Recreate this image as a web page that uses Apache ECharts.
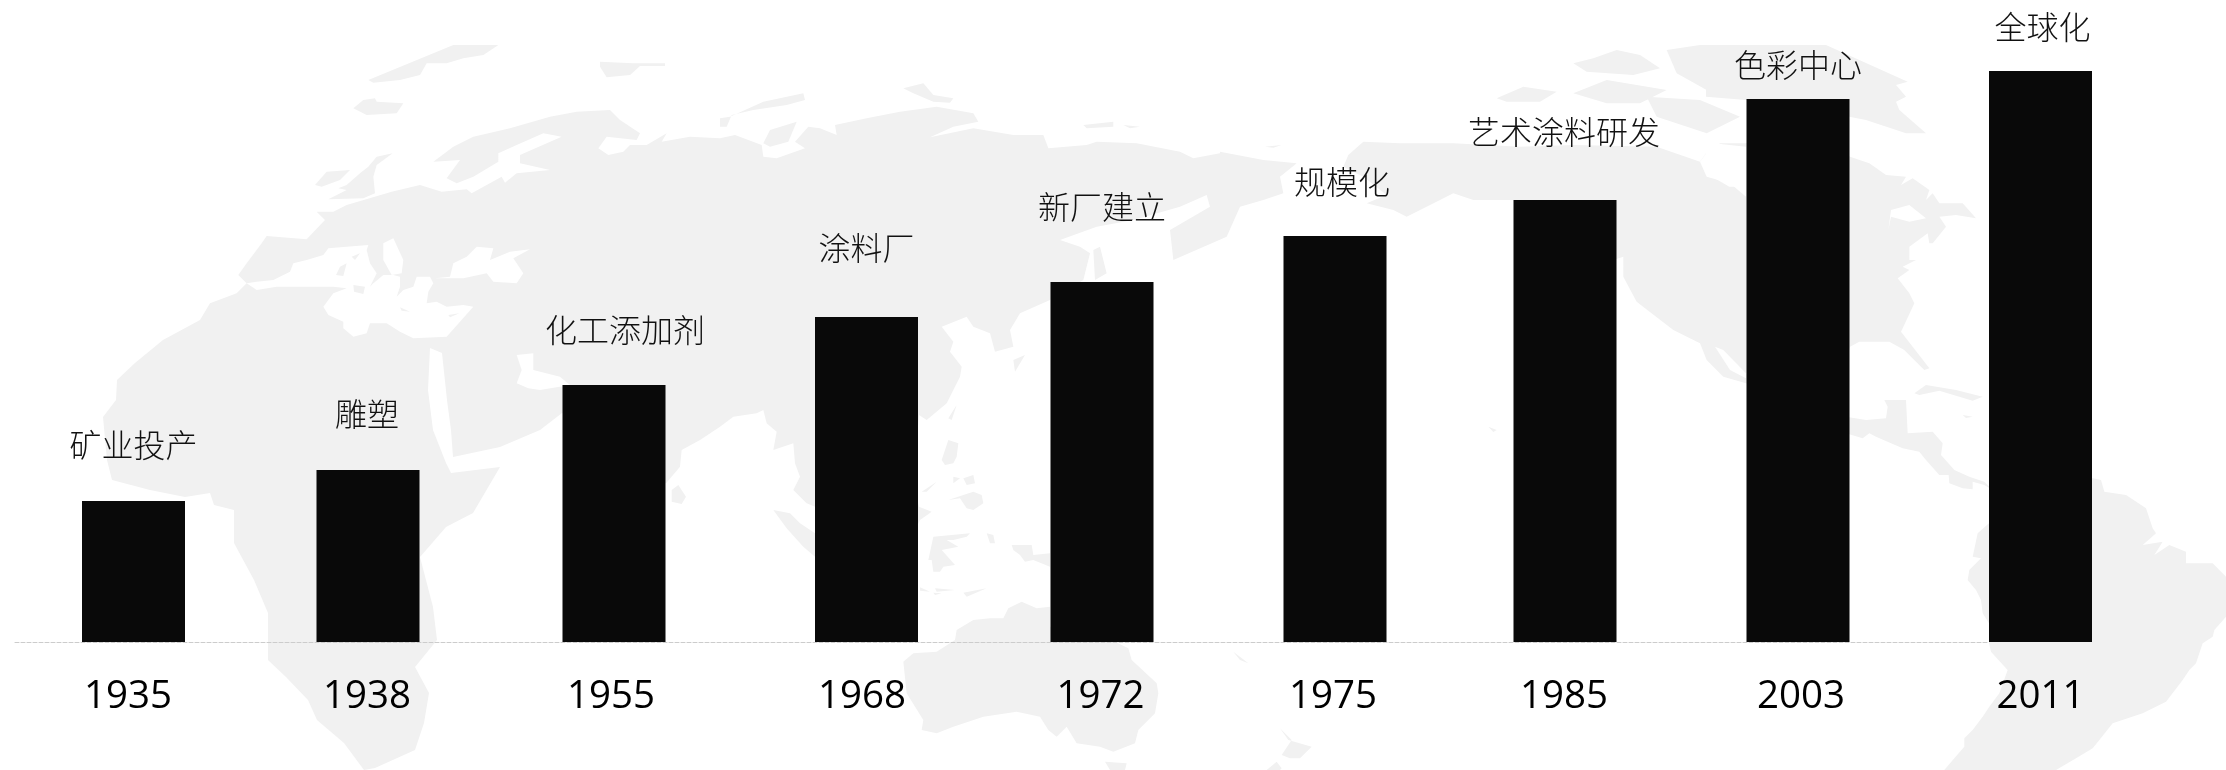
<!DOCTYPE html>
<html>
<head>
<meta charset="utf-8">
<style>html,body{margin:0;padding:0;background:#fff}#c{width:2226px;height:770px}</style>
<script src="https://cdn.jsdelivr.net/npm/echarts@6/dist/echarts.min.js"></script>
</head>
<body>
<div id="c"></div>
<script>
// ---- data ----
const years = ['1935','1938','1955','1968','1972','1975','1985','2003','2011'];
const milestones = ['矿业投产','雕塑','化工添加剂','涂料厂','新厂建立','规模化','艺术涂料研发','色彩中心','全球化'];
const heights = [141,172,257,325,360,406,442,543,571];

// ---- layout of the uneven columns and their captions ----
const barCentres = [133.5,368,614,866.5,1102,1335,1565,1798,2040.5];
const captionLift = [56,56,55,69,75,54,68,34,44];
const captionShift = [0,-1,11,0,0,7,-1,0,2];
const yearShift = [-5.5,-1,-3,-4.5,-1.5,-2,-1,3,0];
const SLOT = 200, BASE_Y = 642, BAR_W = 103;

// ---- backdrop world map, hand traced ----
function Z(x0,y0,s,str){return str.trim().split(/\s+/).map(p=>{const [a,b]=p.split(',').map(Number);return [x0+a/s,y0+b/s];});}
const z5=s=>Z(200,30,3,s), z6=s=>Z(720,30,3,s), z7=s=>Z(1240,30,3,s), z8=s=>Z(1706,30,3,s), z9=s=>Z(620,400,3,s), z10=s=>Z(1100,400,3,s), z11=s=>Z(1706,400,3,s), z12=s=>Z(1220,110,3,s), F=s=>Z(0,0,1,s);
const land = [
 // Afro-Eurasia
 [].concat(
  F('107,460 103,417 116,400 117,380 135,363 163,340'),
  z5('0,870 30,820 110,790 140,760 115,735 140,700 185,640 200,618 320,628 375,570 350,545 400,545 440,525 575,485 660,465 725,485 800,478 815,490 905,440 915,458 950,430 1050,420 960,400 960,375 1085,320 1030,310 950,345 895,370 895,395 820,440 770,460 740,445 780,390 700,395 760,350 820,320 930,295 1050,260 1130,245 1230,240 1260,270 1320,310 1310,330 1220,320 1195,355 1225,375 1270,365 1290,345 1340,345 1400,310 1385,335 1470,320 1560,325'),
  z6('0,325 45,315 125,345 130,380 170,385 255,355 225,335 265,290 300,295 350,315 345,285 440,265 540,245 650,230 760,250 775,275 700,290 630,322 760,295 880,315 970,315 985,355 1100,345 1130,335 1250,340 1380,365 1420,385 1500,370'),
  z12('0,125 130,150 230,160 180,200 190,250 130,270'),
  z6('1560,530 1520,620 1360,690 1350,600 1470,530 1460,495 1380,530 1240,570 1130,590 1020,630 1080,650 1110,670 1090,750 990,810 900,850 870,900 880,950 825,965 810,910 760,890 740,860 665,890 700,935 690,965 725,1010 720,1040 680,1120 620,1170'),
  z9('897,45 880,250 897,320 935,335 900,360 880,400 700,380 585,320 560,310 520,270 540,230 525,190 520,130 460,150 470,95 440,70 430,30 410,40 340,50 300,80 240,120 185,150 180,200 138,250 100,250'),
  F('562,413 540,430 500,447 453,457 451,430 447,400 442,353 430,348 428,390 433,430 446,463 451,473 500,467 473,513 446,527 420,557 433,607 437,640 415,667 429,693 424,723 415,750 375,768 364,770 344,743 317,720 308,700 286,677 268,660 268,613 254,580 234,543 234,510 214,505 210,493 185,497 150,490 112,480')
 ),
 // North America
 [].concat(
  z12('385,135 430,95 540,100 700,100'),
  z7('840,350 1000,345 1250,350 1380,395 1420,340 1518,340'),
  z8('300,250 432,380 490,400 540,435 600,440 585,465 620,445 670,480 660,510 680,490 700,520 770,520 810,565 750,555 700,560 720,590 680,640 670,640 665,610 610,650 610,690 630,690 590,710 610,720 575,745 610,790 625,820 590,895 585,905 670,1015 655,1020 595,960 550,935 460,935 432,950 420,1000'),
  z11('420,50 480,60 540,55 545,20 535,0 600,0 605,100 680,95 710,130 705,165 745,210 790,230 835,245 860,270 835,255 800,245 800,268 770,265 730,250 728,225 700,225 660,180 640,155 590,145 510,110 490,100 470,115 420,100'),
  z7('1518,1060 1450,1040 1400,990 1380,940 1300,900 1190,815 1150,740 1150,680 1120,690 1000,600 820,510 700,510 640,490 600,510'),
  z12('560,320 520,300 440,280 500,255 430,200 370,170')
 ),
 // Greenland / north-east part of the American side
 z8('0,45 360,45 605,155 570,165 600,200 570,215 580,240 660,310 600,310 480,270 430,260 120,210 0,200'),
 // South America
 [].concat(z11('849,270 1161,235 1185,240 1195,275 1260,285 1320,325 1340,385 1350,400 1310,435 1370,425 1345,465 1390,435 1440,455 1440,490 1520,490 1560,530 1560,650 1525,690 1520,710 1490,730 1470,790 1450,810 1430,840 1380,905 1310,940 1220,970 1180,1020 1160,1045 1110,1075 1050,1110 715,1110 745,1075 775,1040 775,1015 800,990 830,950 850,920 880,880 905,810 855,755 849,730 849,670 830,640 825,600 810,570 785,540 790,510 825,475 800,470 815,400 849,370')),
 // Australia
 z9('850,785 880,760 950,755 1005,720 1010,690 1060,660 1110,655 1150,655 1165,625 1205,605 1250,625 1290,620 1290,680 1485,725 1525,745 1535,780 1610,850 1615,880 1605,940 1555,990 1545,1030 1480,1055 1440,1040 1370,1030 1340,980 1310,1010 1285,990 1260,950 1190,935 1090,950 1000,980 950,1000 905,990 910,960 860,880')
];
const water = [
 // Mediterranean
 z5('140,760 170,780 230,770 330,770 400,770 440,775 400,790 370,830 385,855 430,875 430,895 460,920 500,910 510,880 560,880 600,905 640,925 740,920 820,830 790,825 740,830 710,815 680,820 685,785 700,760 690,740 650,740 640,770 610,780 590,800 600,770 600,740 580,735 550,735 520,760 510,770 530,730 510,700 500,660 505,645 440,650 385,655 370,675 320,690 280,700 270,725 220,750 170,755'),
 // Adriatic
 z5('550,640 580,625 610,690 605,730 575,735 550,690'),
 // Black Sea
 z5('705,745 750,740 760,700 800,680 830,650 880,655 870,690 930,665 990,658 940,685 970,730 950,760 880,755 860,730 790,745'),
 // Persian Gulf
 z5('950,975 1000,970 1000,1020 1080,1040 1110,1065 1020,1080 985,1075 950,1060 965,1020'),
 // Hudson band, Great Lake, Gulf of California
 z7('1380,395 1420,340 1518,350 1518,500 1470,460 1400,440'),
 z8('0,320 100,370 120,470 70,470 0,430'),
 z8('547,600 555,540 610,525 660,565 610,575 555,560'),
 z7('1425,950 1450,960 1518,1030 1518,1045 1470,1020')
];
const islands = [
 z5('505,150 760,45 895,45 850,75 790,85 740,100 680,100 660,135 600,150 520,158'),
 z5('460,235 490,210 525,205 530,215 610,220 590,250 500,255'),
 z5('1200,95 1300,100 1395,100 1395,108 1320,108 1290,135 1220,142 1200,110'),
 z5('530,380 578,370 530,405 520,440 525,490 490,505 385,508 440,480 415,475 440,465 480,430 505,410'),
 z5('345,465 380,425 450,420 420,450 365,470'),
 z5('455,680 480,670 465,690'), z5('420,710 440,700 430,738 408,735'), z5('460,765 495,770 490,792 462,785'), z5('600,832 630,845 605,842'), z5('745,855 778,850 750,862'),
 z6('30,260 130,215 250,190 255,210 200,225 100,240 35,255 20,290 0,290 0,265'),
 z6('130,340 150,300 230,275 205,335 150,350'),
 z6('550,175 610,160 640,195 700,205 690,218 640,215 580,190'),
 z6('1090,285 1180,275 1180,290 1100,295'), z6('1210,285 1260,290 1230,295'),
 z6('880,990 915,975 885,1025'), z6('685,1165 710,1125 695,1170'), z6('1120,660 1140,650 1160,730 1125,750'),
 z9('965,180 985,120 1015,130 1010,170 1000,190 975,195'),
 z9('985,300 1030,285 1060,275 1085,285 1090,310 1060,330 1040,325 1020,295'),
 z9('1000,230 1020,235 1000,250'), z9('1030,235 1060,225 1065,250 1040,255'), z9('905,275 950,245 920,275'),
 z9('460,330 510,340 540,370 585,400 585,470 550,440 500,385'),
 z9('155,270 175,255 198,290 185,312 155,305'),
 z9('940,410 1050,400 1040,410 1000,420 980,420 1015,440 965,450 1005,495 970,500 960,515 940,515 935,480 925,480'),
 z9('900,562 930,575 900,572'), z9('945,565 1005,570 950,575'), z9('940,578 965,580 945,585'), z9('1030,578 1100,565 1040,590'),
 z9('1100,400 1120,405 1125,430 1110,430'),
 z9('1175,435 1235,435 1240,465 1290,460 1290,500 1240,480 1215,485 1200,465 1180,450'),
 z9('1455,1085 1520,1090 1515,1110 1470,1110'),
 z10('540,985 565,1020 635,1040 600,1075 570,1075 545,1065 575,1020'), z10('500,1110 530,1085 545,1105 540,1110'),
 z10('400,755 445,790 420,780'), z10('1165,80 1190,90 1180,96'),
 Z(1706,400,3,'165,480 178,490 170,492'),
 z7('1000,100 1060,85 1130,60 1200,75 1260,115 1180,135 1040,125'),
 z7('1280,60 1380,45 1518,45 1518,200 1400,180 1310,130'),
 z7('770,205 850,170 950,185 900,215 800,215'),
 z7('1000,190 1100,150 1280,180 1200,220 1100,220'),
 z7('1220,200 1380,210 1500,260 1400,310 1250,260'),
 z7('75,350 125,345 100,353'),
 z8('625,1090 660,1065 750,1080 830,1100 800,1112 700,1082 640,1095'), z8('770,1155 800,1160 780,1164'),
 Z(1706,30,3,'880,1200 849,1140 900,1120')
];
const poly = (pts,fill,z)=>({type:'polygon',silent:true,z:z,shape:{points:pts},style:{fill:fill}});
const backdrop = [].concat(
  land.map(p=>poly(p,'#f1f1f1',-30)),
  water.map(p=>poly(p,'#ffffff',-20)),
  islands.map(p=>poly(p,'#f1f1f1',-10))
);

// ---- chart ----
const grids = barCentres.map(c=>({left:c-SLOT/2,width:SLOT,top:0,height:BASE_Y}));
grids.push({left:15,width:1974,top:0,height:BASE_Y});   // carries the dashed baseline

const xAxes = years.map((y,i)=>({
  type:'category',gridIndex:i,data:[y],
  axisTick:{show:false},axisLine:{show:false},
  axisLabel:{interval:0,margin:35,fontFamily:'"Open Sans","Noto Sans",sans-serif',fontSize:38.5,lineHeight:40,color:'#000',
    padding:yearShift[i]<0?[0,-2*yearShift[i],0,0]:[0,0,0,2*yearShift[i]]}
}));
xAxes.push({type:'category',gridIndex:years.length,data:[''],axisTick:{show:false},axisLabel:{show:false},
  axisLine:{show:true,lineStyle:{color:'#cccccc',width:1,type:[4,2]}}});

const yAxes = grids.map((g,i)=>({type:'value',gridIndex:i,min:0,max:BASE_Y,show:false,splitLine:{show:false}}));

const series = years.map((y,i)=>({
  type:'bar',name:y,xAxisIndex:i,yAxisIndex:i,data:[heights[i]],barWidth:BAR_W,
  itemStyle:{color:'#090909'},silent:true,
  label:{show:true,position:'top',distance:0,lineHeight:32,formatter:milestones[i],
    offset:[captionShift[i],-(captionLift[i]-16)],
    fontFamily:'"Noto Sans CJK SC",sans-serif',fontSize:32,fontWeight:300,color:'#111'}
}));

const chart = echarts.init(document.getElementById('c'),null,{renderer:'canvas',width:2226,height:770});
chart.setOption({
  animation:false,backgroundColor:'#ffffff',
  grid:grids,xAxis:xAxes,yAxis:yAxes,series:series,
  graphic:{elements:backdrop}
});
</script>
</body>
</html>
